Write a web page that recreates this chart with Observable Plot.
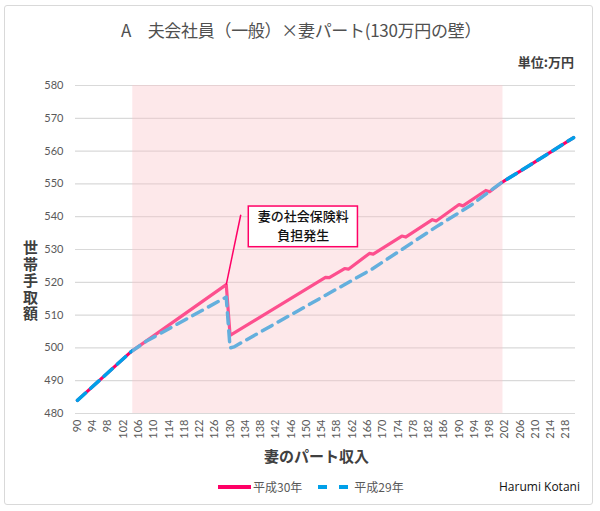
<!DOCTYPE html>
<html><head><meta charset="utf-8">
<script src="https://cdn.jsdelivr.net/npm/d3@7"></script>
<script src="https://cdn.jsdelivr.net/npm/@observablehq/plot@0.6"></script>
<style>
body{margin:0;background:#fff;font-family:"Noto Sans CJK JP","Noto Sans",sans-serif;}
#wrap{position:relative;width:600px;height:511px;overflow:hidden;background:#fff;}
#frame{position:absolute;left:4px;top:5px;width:589px;height:500px;border:1.5px solid #d9d9d9;border-radius:3px;box-sizing:border-box;}
#chart{position:absolute;left:0;top:0;}
.abs{position:absolute;white-space:nowrap;}
#title{left:0;width:602px;top:17px;text-align:center;font-size:17px;color:#505050;letter-spacing:-0.3px;}
#unit{right:26px;top:52px;font-size:13px;font-weight:bold;color:#404040;}
#ytitle{left:20px;top:240px;writing-mode:vertical-rl;text-orientation:upright;font-size:15px;font-weight:bold;color:#404040;letter-spacing:1.5px;}
#xtitle{left:264px;top:445px;font-size:15px;font-weight:bold;color:#404040;}
#legend{left:216px;top:478px;font-size:12px;color:#595959;display:flex;align-items:center;}
#credit{left:499px;top:478px;font-size:12px;color:#111;font-family:"Open Sans",sans-serif;}
</style></head>
<body>
<div id="wrap">
  <div id="frame"></div>
  <div id="chart"></div>
  <div class="abs" id="title">A　夫会社員（一般）×妻パート(130万円の壁）</div>
  <div class="abs" id="unit">単位:万円</div>
  <div class="abs" id="ytitle">世帯手取額</div>
  <div class="abs" id="xtitle">妻のパート収入</div>
  <div class="abs" id="legend"></div>
  <div class="abs" id="credit">Harumi Kotani</div>
</div>
<script>
// ---- data ----
const seriesNames = ["平成30年", "平成29年"];
const h30X = [90, 104, 129, 130, 155, 156, 160, 161, 166.5, 167.5, 175, 176, 183, 184, 190, 191, 197, 198, 201, 207, 220];
const h30Y = [484, 498.8, 519.3, 503.8, 521.5, 521.4, 524.2, 524.0, 528.8, 528.6, 534.1, 533.8, 539.1, 538.7, 543.7, 543.3, 548.0, 547.6, 550.3, 554.6, 564.1];
const h29X = [90, 104, 108, 129, 130, 131, 167, 175, 184, 193, 201, 207, 220];
const h29Y = [484, 498.8, 502.0, 515.5, 500.0, 500.3, 523.9, 530.0, 536.9, 543.4, 550.3, 554.6, 564.1];
const xTicks = d3.range(90, 219, 4);
const yTicks = d3.range(480, 581, 10);
const shadeRange = [104.5, 201.5];
const annoLines = ["妻の社会保険料", "負担発生"];
const annoLineY = [540.1, 534.2];
const annoLeader = {x1: 129, y1: 519.3, x2: 132.8, y2: 540.6};
const annoBox = {x1: 134.9, x2: 163.5, y1: 530.7, y2: 543.1};

const h30 = h30X.map((x, i) => ({x, y: h30Y[i]}));
const h29 = h29X.map((x, i) => ({x, y: h29Y[i]}));
const anno = annoLines.map((t, i) => ({t, x: (annoBox.x1 + annoBox.x2) / 2, y: annoLineY[i]}));
const pink = "#ff0066", blue = "#00a0e9";

const chart = Plot.plot({
  width: 600, height: 470,
  marginTop: 85, marginBottom: 57, marginLeft: 75, marginRight: 25,
  style: {fontFamily: "Lato, 'Open Sans', sans-serif", fontSize: "11px", color: "#595959", background: "transparent"},
  x: {type: "linear", domain: [89.5, 220.5], ticks: xTicks, tickRotate: -90, tickSize: 0, tickPadding: 6, label: null, tickFormat: d => String(d)},
  y: {domain: [480, 580], ticks: yTicks, tickSize: 0, tickPadding: 12, label: null},
  marks: [
    Plot.gridY(yTicks, {stroke: "#d9d9d9", strokeOpacity: 1, strokeWidth: 1.2}),
    Plot.line(h30, {x: "x", y: "y", stroke: pink, strokeWidth: 3.2, strokeLinejoin: "round"}),
    Plot.line(h29, {x: "x", y: "y", stroke: blue, strokeWidth: 3.5, strokeDasharray: "11,7"}),
    Plot.rect([{x1: shadeRange[0], x2: shadeRange[1], y1: 480, y2: 580}], {x1: "x1", x2: "x2", y1: "y1", y2: "y2", fill: "rgb(250,197,202)", fillOpacity: 0.4}),
    Plot.link([annoLeader], {x1: "x1", y1: "y1", x2: "x2", y2: "y2", stroke: pink, strokeWidth: 1.5}),
    Plot.rect([annoBox], {x1: "x1", x2: "x2", y1: "y1", y2: "y2", fill: "white", stroke: pink, strokeWidth: 1.5}),
    Plot.text(anno, {x: "x", y: "y", text: "t", fill: "#111", fontSize: 13, fontFamily: "'Noto Sans CJK JP', sans-serif", fontWeight: 500})
  ]
});
document.getElementById("chart").appendChild(chart);

// legend
const legend = document.getElementById("legend");
legend.innerHTML =
  `<svg width="36" height="10"><line x1="2" y1="5" x2="35" y2="5" stroke="${pink}" stroke-width="4"/></svg>` +
  `<span style="margin-left:1px">${seriesNames[0]}</span>` +
  `<svg width="36" height="10" style="margin-left:14px"><line x1="2" y1="5" x2="35" y2="5" stroke="${blue}" stroke-width="4" stroke-dasharray="9,12"/></svg>` +
  `<span style="margin-left:2px">${seriesNames[1]}</span>`;
</script>
</body></html>
